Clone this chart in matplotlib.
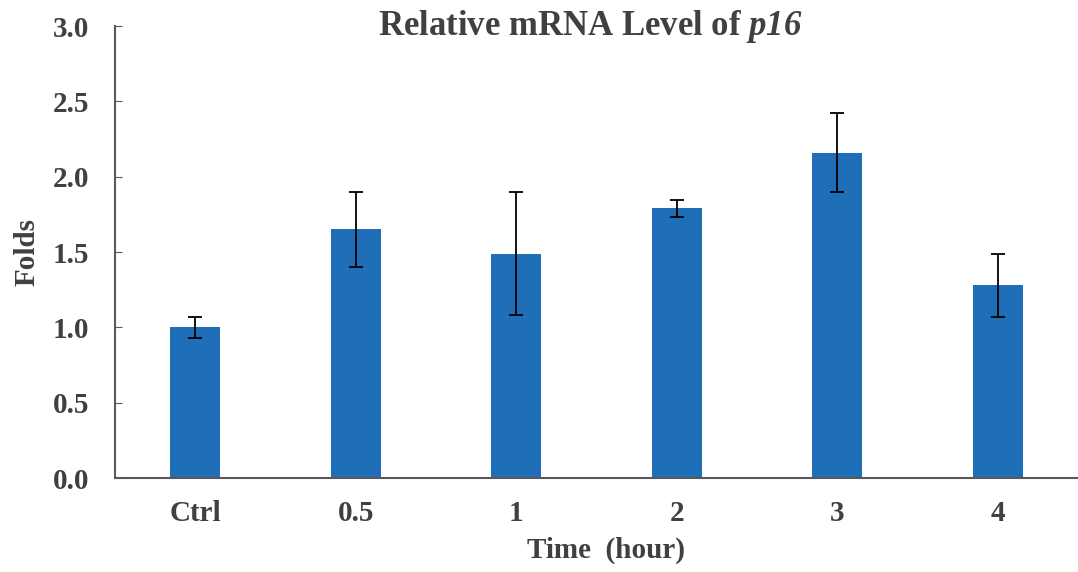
import matplotlib.pyplot as plt
import numpy as np

plt.rcParams['font.family'] = ['Liberation Serif', 'DejaVu Serif']
plt.rcParams['font.weight'] = 'bold'
plt.rcParams['axes.labelweight'] = 'bold'
plt.rcParams['mathtext.fontset'] = 'custom'
plt.rcParams['mathtext.bfit'] = 'Liberation Serif:bold:italic'
plt.rcParams['mathtext.rm'] = 'Liberation Serif:bold'

# relative p16 mRNA, mean and error per time point
groups = ['Ctrl', '0.5', '1', '2', '3', '4']
folds = [1.00, 1.65, 1.49, 1.79, 2.16, 1.28]
errors = [0.07, 0.25, 0.41, 0.055, 0.26, 0.21]

txt = '#404040'
fig = plt.figure(figsize=(10.78, 5.72), dpi=100)
ax = fig.add_axes([0.1067, 0.1643, 0.8933, 0.7902])

x = np.arange(len(groups))
ax.bar(x, folds, width=0.31, color='#1F6EB8', zorder=2)
ax.errorbar(x, folds, yerr=errors, fmt='none', ecolor='black',
            elinewidth=1.3, capsize=5, capthick=1.3, zorder=3)

ax.set_xlim(-0.5, 5.5)
ax.set_ylim(0, 3.0)
ax.set_yticks(np.arange(0, 3.01, 0.5))
ax.set_yticklabels(['%.1f' % v for v in np.arange(0, 3.01, 0.5)])
ax.set_xticks(x)
ax.set_xticklabels(groups)

for s in ['top', 'right']:
    ax.spines[s].set_visible(False)
for s in ['left', 'bottom']:
    ax.spines[s].set_color('#595959')
    ax.spines[s].set_linewidth(1.5)
ax.tick_params(axis='y', direction='in', length=5, color='#595959',
               labelsize=21, labelcolor=txt, pad=18.5)
ax.tick_params(axis='x', length=0, labelsize=21, labelcolor=txt, pad=16)

ax.set_xlabel('Time  (hour)', fontsize=21, color=txt)
ax.xaxis.set_label_coords(0.51, -0.13)
ax.set_ylabel('Folds', fontsize=21, color=txt, labelpad=9)
fig.text(0.548, 1 - 35 / 572, r'Relative mRNA Level of $\mathbfit{p16}$',
         ha='center', va='baseline', fontsize=25, color=txt)

fig.savefig('out.png', dpi=100)
